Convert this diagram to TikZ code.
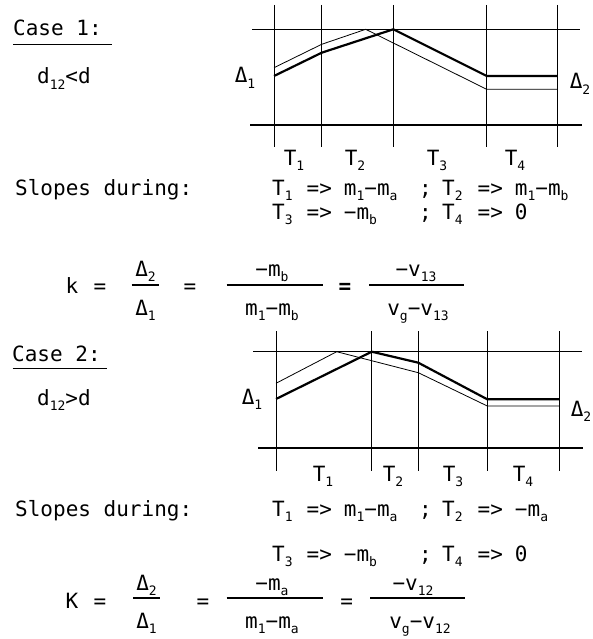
\documentclass[tikz,border=0pt]{standalone}
\usepackage{fontspec}
\setmonofont{DejaVu Sans Mono}
\newcommand\sbs[1]{\raisebox{-0.45ex}{\fontsize{13}{13}\selectfont #1}}
\newcommand\gp[1]{\hspace{#1pt}}

\begin{document}
\begin{tikzpicture}[x=1pt, y=-1pt,
  txt/.style={font=\ttfamily\fontsize{21}{23}\selectfont, inner sep=0pt, anchor=base west},
  ctxt/.style={txt, anchor=base},
  gridline/.style={line width=0.6pt},
  axisline/.style={line width=2.2pt},
  lo/.style={line width=0.8pt, line join=round},
  hi/.style={line width=2.2pt, line join=round},
  fracline/.style={line width=1.2pt}]

  \useasboundingbox (0,0) rectangle (593,639);

  % ---------------- Case 1 ----------------
  \node[txt] (case1) at (13,36) {Case 1:};
  \draw[lo] (13,44) -- (112,44);
  \node[txt] (cond1) at (37,84) {d\sbs{12}<d};

  % -- grid --
  \foreach \x in {274,321.7,393.3,486.7,557.7}
    \draw[gridline] (\x,5) -- (\x,147);
  \draw[lo] (252,29.3) -- (580,29.3);
  \draw[axisline] (250,125) -- (582,125);

  % -- the two traces --
  \draw[lo] (274,67.7) -- (321.7,44.3) -- (365.7,29.3) -- (486.7,89.3) -- (557.7,89.3);
  \draw[hi] (274,76) -- (321.7,52.7) -- (393.3,29.3) -- (486.7,76) -- (557.7,76);

  \node[ctxt] (dA1) at (245,83) {Δ\sbs{1}};
  \node[ctxt] (dA2) at (580,89) {Δ\sbs{2}};

  \node[ctxt] (tA1) at (294,165) {T\sbs{1}};
  \node[ctxt] (tA2) at (355,165) {T\sbs{2}};
  \node[ctxt] (tA3) at (437,165) {T\sbs{3}};
  \node[ctxt] (tA4) at (515,165) {T\sbs{4}};

  % -- slopes --
  \node[txt] (slopes1) at (15,195) {Slopes during:};
  \node[txt] (sA1) at (272,195) {T\sbs{1}\gp{14}=>\gp{12}m\sbs{1}−m\sbs{a}};
  \node[txt] (sA1s) at (419,195) {;};
  \node[txt] (sA2) at (442,195) {T\sbs{2}\gp{15}=>\gp{12}m\sbs{1}−m\sbs{b}};
  \node[txt] (sA3) at (272,219) {T\sbs{3}\gp{14}=>\gp{12}−m\sbs{b}};
  \node[txt] (sA3s) at (419,219) {;};
  \node[txt] (sA4) at (442,219) {T\sbs{4}\gp{15}=>\gp{12}0};

  % -- ratio --
  \node[ctxt] (kA) at (72,293) {k};
  \node[ctxt] (eqA1) at (100,293) {=};
  \node[ctxt] (numA1) at (145.5,276) {Δ\sbs{2}};
  \draw[fracline] (131.7,285) -- (159.3,285);
  \node[ctxt] (denA1) at (145.5,315) {Δ\sbs{1}};
  \node[ctxt] (eqA2) at (190,293) {=};
  \node[ctxt] (numA2) at (272,276) {−m\sbs{b}};
  \draw[fracline] (226.7,285) -- (323,285);
  \node[ctxt] (denA2) at (272,315) {m\sbs{1}−m\sbs{b}};
  \node[ctxt, font=\ttfamily\bfseries\fontsize{21}{23}\selectfont] (eqA3) at (345,293) {=};
  \node[ctxt] (numA3) at (416,276) {−v\sbs{13}};
  \draw[fracline] (369,285) -- (464,285);
  \node[ctxt] (denA3) at (418,315) {v\sbs{g}−v\sbs{13}};

  % ---------------- Case 2 ----------------
  \node[txt] (case2) at (12,361) {Case 2:};
  \draw[lo] (12.7,368) -- (107.3,368);
  \node[txt] (cond2) at (37,405) {d\sbs{12}>d};

  % -- grid --
  \foreach \x in {276,371.7,418.3,487.3,559}
    \draw[gridline] (\x,331) -- (\x,471);
  \draw[lo] (253,351.7) -- (582,351.7);
  \draw[axisline] (258,448.3) -- (583,448.3);

  % -- the two traces --
  \draw[lo] (276,383.3) -- (336.7,351.7) -- (418.3,372.7) -- (487.3,406) -- (559,406);
  \draw[hi] (276,399) -- (371.7,351.7) -- (418.3,362.7) -- (487.3,399.3) -- (559,399.3);

  \node[ctxt] (dB1) at (252,404) {Δ\sbs{1}};
  \node[ctxt] (dB2) at (581,416) {Δ\sbs{2}};

  \node[ctxt] (tB1) at (323,481) {T\sbs{1}};
  \node[ctxt] (tB2) at (393,481) {T\sbs{2}};
  \node[ctxt] (tB3) at (453,481) {T\sbs{3}};
  \node[ctxt] (tB4) at (523,481) {T\sbs{4}};

  % -- slopes --
  \node[txt] (slopes2) at (15,516) {Slopes during:};
  \node[txt] (sB1) at (272,516) {T\sbs{1}\gp{14}=>\gp{12}m\sbs{1}−m\sbs{a}};
  \node[txt] (sB1s) at (419,516) {;};
  \node[txt] (sB2) at (442,516) {T\sbs{2}\gp{15}=>\gp{12}−m\sbs{a}};
  \node[txt] (sB3) at (272,561) {T\sbs{3}\gp{14}=>\gp{12}−m\sbs{b}};
  \node[txt] (sB3s) at (419,561) {;};
  \node[txt] (sB4) at (442,561) {T\sbs{4}\gp{15}=>\gp{12}0};

  % -- ratio --
  \node[ctxt] (kB) at (72,608) {K};
  \node[ctxt] (eqB1) at (100,608) {=};
  \node[ctxt] (numB1) at (146.5,590) {Δ\sbs{2}};
  \draw[fracline] (133,598) -- (160,598);
  \node[ctxt] (denB1) at (146.5,628) {Δ\sbs{1}};
  \node[ctxt] (eqB2) at (203,608) {=};
  \node[ctxt] (numB2) at (272,590) {−m\sbs{a}};
  \draw[fracline] (226.7,598) -- (323,598);
  \node[ctxt] (denB2) at (272,628) {m\sbs{1}−m\sbs{a}};
  \node[ctxt] (eqB3) at (346.7,608) {=};
  \node[ctxt] (numB3) at (413,590) {−v\sbs{12}};
  \draw[fracline] (370,598) -- (465,598);
  \node[ctxt] (denB3) at (420,628) {v\sbs{g}−v\sbs{12}};

\end{tikzpicture}
\end{document}
